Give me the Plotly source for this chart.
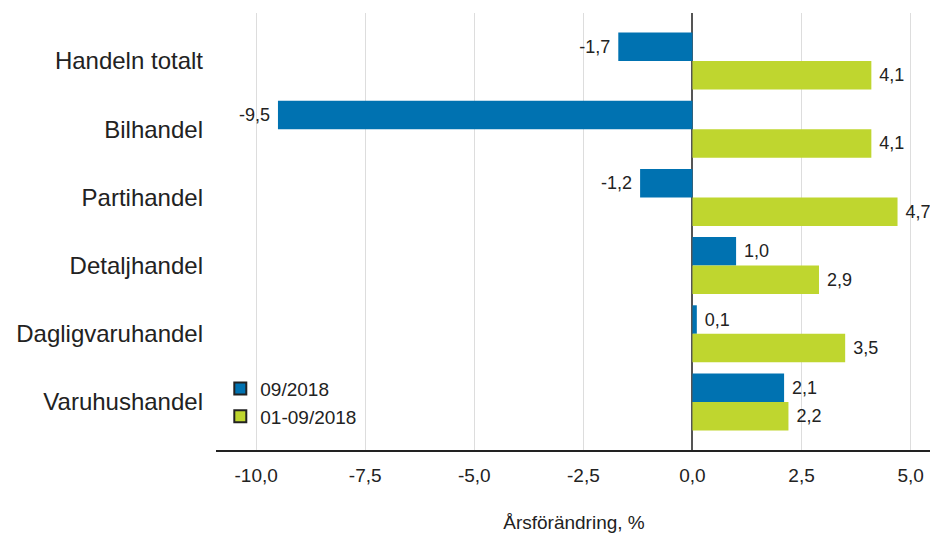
import plotly.graph_objects as go

categories = ["Handeln totalt", "Bilhandel", "Partihandel", "Detaljhandel",
              "Dagligvaruhandel", "Varuhushandel"]
series_names = ["09/2018", "01-09/2018"]
values_month = [-1.7, -9.5, -1.2, 1.0, 0.1, 2.1]
values_ytd = [4.1, 4.1, 4.7, 2.9, 3.5, 2.2]
tick_vals = [-10.0, -7.5, -5.0, -2.5, 0.0, 2.5, 5.0]
tick_text = ["-10,0", "-7,5", "-5,0", "-2,5", "0,0", "2,5", "5,0"]
x_title = "Årsförändring, %"

colors = ["#0072b1", "#bfd62f"]
FONT = "Liberation Sans, Arial, sans-serif"
NB = "\u00a0"


def fmt(v):
    s = f"{v:.1f}".replace(".", ",")
    return s + NB if v < 0 else NB + s


fig = go.Figure()
for name, vals, col in zip(series_names, [values_month, values_ytd], colors):
    fig.add_trace(go.Bar(
        y=categories, x=vals, orientation="h", name=name,
        marker=dict(color=col, line=dict(width=0)),
        text=[fmt(v) for v in vals], textposition="outside",
        textfont=dict(size=18, color="#222", family=FONT),
        constraintext="none", cliponaxis=False, showlegend=False,
    ))
    # legend entry with outlined square
    fig.add_trace(go.Scatter(
        x=[None], y=[None], mode="markers", name=name,
        marker=dict(symbol="square", size=13, color=col,
                    line=dict(color="#222", width=1.5)),
        showlegend=True,
    ))

fig.update_layout(
    width=930, height=525,
    margin=dict(l=208, r=6, t=5, b=83),
    plot_bgcolor="white", paper_bgcolor="white",
    barmode="group", bargap=0.164, bargroupgap=0,
    font=dict(family=FONT, size=18, color="#222"),
    legend=dict(x=0.006, y=0.184, xanchor="left", yanchor="top",
                bgcolor="rgba(0,0,0,0)", font=dict(size=19, color="#222"),
                tracegroupgap=0, itemsizing="constant"),
    xaxis=dict(
        range=[-10.92, 5.49], tickvals=tick_vals, ticktext=tick_text,
        showgrid=True, gridcolor="#dddddd", gridwidth=1,
        zeroline=True, zerolinecolor="#555555", zerolinewidth=2,
        showline=True, linecolor="#222", linewidth=2,
        ticks="", tickfont=dict(size=19), automargin=False,
        ticklabelstandoff=7,
        title=dict(text=x_title, font=dict(size=19), standoff=32),
    ),
    yaxis=dict(
        type="category", categoryorder="array", categoryarray=categories,
        range=[5.704, -0.704], showgrid=False, zeroline=False,
        ticks="", ticklabelstandoff=12, tickfont=dict(size=24),
        automargin=False,
    ),
)

fig.write_html("out.html")
